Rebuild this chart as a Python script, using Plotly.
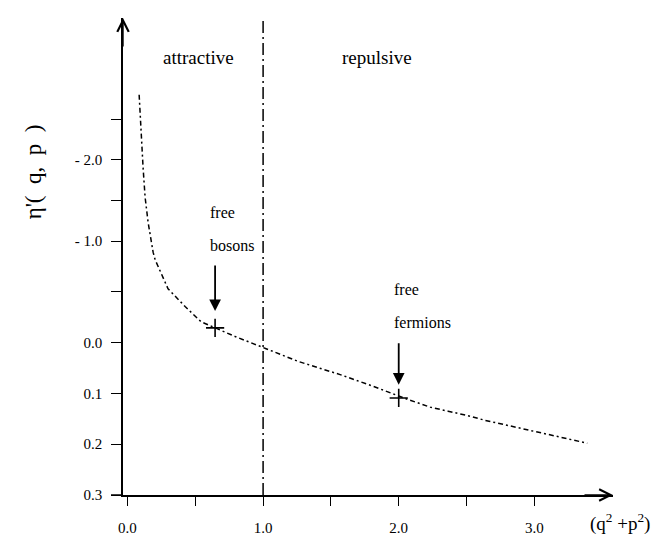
import plotly.graph_objects as go

# ---- data (x in (q^2+p^2), y in axis-position units) ----
curve_x = [0.086, 0.10, 0.115, 0.13, 0.152, 0.189, 0.204, 0.299, 0.425, 0.543, 0.646,
           0.794, 1.022, 1.258, 1.568, 1.811, 2.069, 2.232, 2.364, 2.497, 2.637, 2.77,
           2.903, 3.043, 3.176, 3.301, 3.39]
curve_y = [7.88, 7.04, 6.45, 5.86, 5.37, 4.78, 4.63, 4.06, 3.71, 3.41, 3.29,
           3.12, 2.88, 2.63, 2.37, 2.14, 1.88, 1.73, 1.65, 1.57, 1.47, 1.39,
           1.31, 1.22, 1.14, 1.06, 1.02]

marker_x = [0.646, 2.0]
marker_y = [3.29, 1.91]
marker_line1 = ["free", "free"]
marker_line2 = ["bosons", "fermions"]

boundary_x = 1.0

x_tick_vals = [0.0, 0.5, 1.0, 1.5, 2.0, 2.5, 3.0]
x_tick_text = ["0.0", "", "1.0", "", "2.0", "", "3.0"]
y_tick_vals = [0, 1, 2, 3, 4, 5, 5.8, 6.6, 7.4]
y_tick_text = ["0.3", "0.2", "0.1", "0.0", "", "- 1.0", "", "- 2.0", ""]

region_labels = ["attractive", "repulsive"]
region_x = [0.52, 1.84]

FONT = "Liberation Serif"

fig = go.Figure()

fig.add_trace(go.Scatter(
    x=curve_x, y=curve_y, mode="lines",
    line=dict(color="black", width=1.5, dash="5px,3px,2px,3px"),
    hoverinfo="skip", showlegend=False))

fig.add_trace(go.Scatter(
    x=marker_x, y=marker_y, mode="markers",
    marker=dict(symbol="cross-thin", size=13, line=dict(color="black", width=1.6)),
    showlegend=False))

fig.add_shape(type="line", xref="x", yref="paper", x0=boundary_x, x1=boundary_x, y0=0, y1=1.0,
              line=dict(color="black", width=1.5, dash="12px,4px,2px,4px"))

# small extension of the x axis to the left of the y axis
fig.add_shape(type="line", xref="paper", yref="paper", x0=-12 / 490, x1=0, y0=0, y1=0,
              line=dict(color="black", width=1.5))

# region labels
for lab, xx in zip(region_labels, region_x):
    fig.add_annotation(x=xx, y=1 - 40 / 479, xref="x", yref="paper", text=lab,
                       xanchor="center", yanchor="middle",
                       showarrow=False, font=dict(family=FONT, size=19, color="black"))

# free bosons / fermions labels with arrows (small per-label vertical lift)
lifts = [0.14, 0.0]
for l1, l2, mx, my, lift in zip(marker_line1, marker_line2, marker_x, marker_y, lifts):
    fig.add_annotation(x=mx, y=my + 0.26 + lift * 0.5, xref="x", yref="y", text="",
                       showarrow=True, ax=0, ay=-43 - lift * 30, arrowhead=2, arrowsize=1.3,
                       arrowwidth=1.8, arrowcolor="black")
    fig.add_annotation(x=mx - 0.05, y=my + 2.13 + lift, xref="x", yref="y", text=l1,
                       showarrow=False, xanchor="left", yanchor="middle",
                       font=dict(family=FONT, size=16, color="black"))
    fig.add_annotation(x=mx - 0.05, y=my + 1.48 + lift, xref="x", yref="y", text=l2,
                       showarrow=False, xanchor="left", yanchor="middle",
                       font=dict(family=FONT, size=16, color="black"))

# axis arrowheads
fig.add_annotation(x=0, y=1, xref="paper", yref="paper", text="", showarrow=True,
                   ax=0, ay=30, arrowhead=5, arrowsize=1.6, arrowwidth=1.4, arrowcolor="black")
fig.add_annotation(x=1, y=0, xref="paper", yref="paper", text="", showarrow=True,
                   ax=-30, ay=0, arrowhead=5, arrowsize=1.6, arrowwidth=1.4, arrowcolor="black")

# axis titles
fig.add_annotation(x=-90 / 490, y=(489 - 165) / 479, xref="paper", yref="paper",
                   text="η'(  q,  p  )", textangle=-90, showarrow=False,
                   xanchor="center", yanchor="middle",
                   font=dict(family=FONT, size=23, color="black"))
fig.add_annotation(x=(612 - 115) / 490, y=-(517 - 489) / 479, xref="paper", yref="paper",
                   text="(q<sup>2</sup> +p<sup>2</sup>)", showarrow=False,
                   xanchor="center", yanchor="middle",
                   font=dict(family=FONT, size=19, color="black"))

fig.update_xaxes(range=[-0.033, 3.58], showgrid=False, zeroline=False,
                 showline=True, linecolor="black", linewidth=1.5,
                 tickvals=x_tick_vals, ticktext=x_tick_text,
                 ticks="outside", ticklen=9, tickwidth=1.3, tickcolor="black",
                 ticklabelstandoff=9,
                 tickfont=dict(family=FONT, size=15, color="black"))
fig.update_yaxes(range=[0, 9.39], showgrid=False, zeroline=False,
                 showline=True, linecolor="black", linewidth=1.5,
                 tickvals=y_tick_vals, ticktext=y_tick_text,
                 ticks="outside", ticklen=10, tickwidth=1.3, tickcolor="black",
                 ticklabelstandoff=6,
                 tickfont=dict(family=FONT, size=15, color="black"))

fig.update_layout(width=662, height=538,
                  margin=dict(l=115, r=57, t=10, b=49),
                  plot_bgcolor="white", paper_bgcolor="white")

fig.write_html("out.html")
